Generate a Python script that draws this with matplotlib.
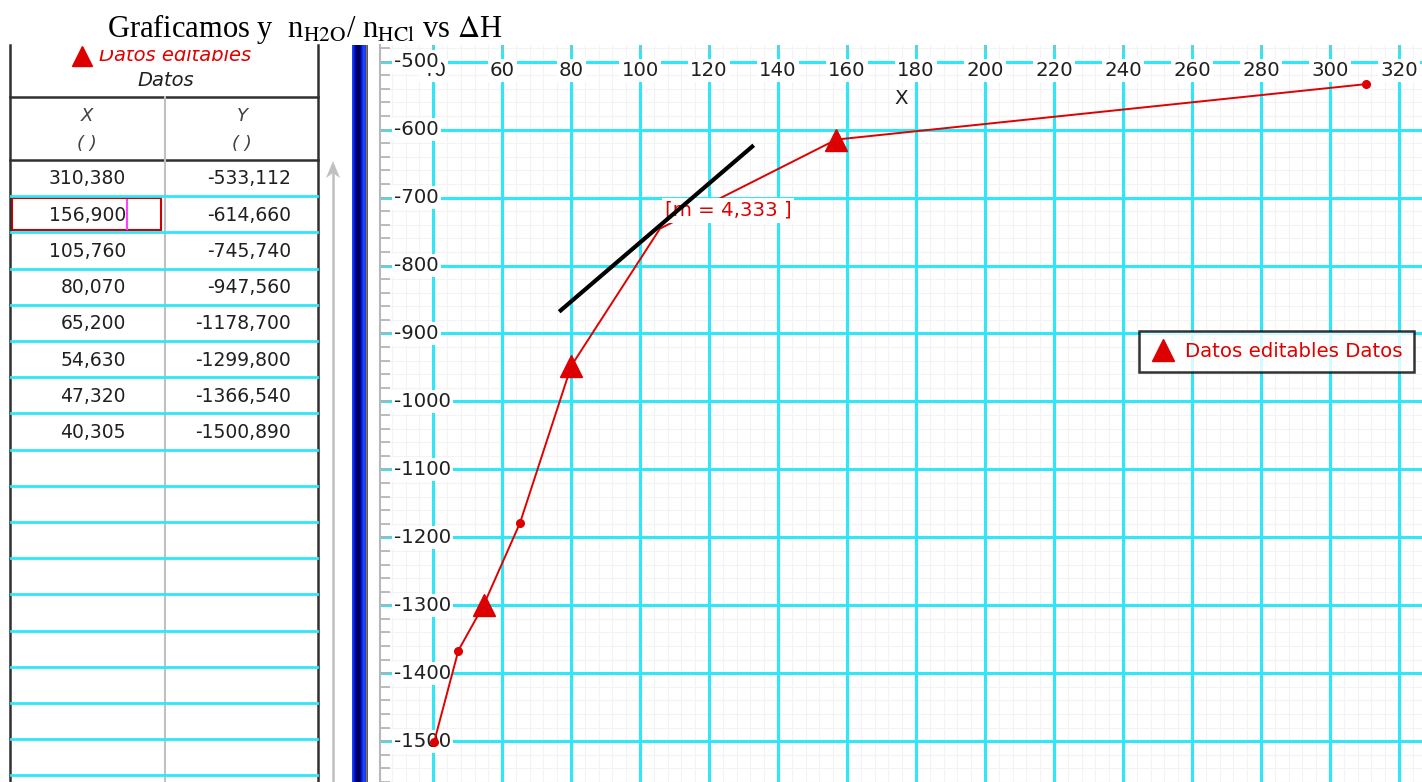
import numpy as np
import matplotlib
matplotlib.use("Agg")
import matplotlib.pyplot as plt
from matplotlib.lines import Line2D
from matplotlib.patches import Rectangle, Polygon

plt.rcParams['font.family'] = ['DejaVu Sans']
plt.rcParams['mathtext.fontset'] = 'stix'

# data (table on the left)
x_vals = [310.380, 156.900, 105.760, 80.070, 65.200, 54.630, 47.320, 40.305]
y_vals = [-533.112, -614.660, -745.740, -947.560, -1178.700, -1299.800, -1366.540, -1500.890]
tri_idx = [1, 3, 5]
dot_idx = [0, 4, 6, 7]
tan_x = [77.0, 132.5]
tan_y = [-866.0, -625.0]
slope_label = "[m = 4,333 ]"
label_pos = (125.5, -719.0)
x_ticks = list(range(40, 321, 20))
y_ticks = list(range(-1500, -499, 100))
series_name = "Datos editables Datos"

W, H = 1422, 782
CYAN = '#2ee8fa'
RED = '#e00000'
FS = 14.2

fig = plt.figure(figsize=(W / 100, H / 100), dpi=100)
fig.patch.set_facecolor('white')

# ---- main plot ----
ax = fig.add_axes([380 / W, 0, (W - 380) / W, 737 / H])
ax.set_xlim(24.6, 326.7)
ax.set_ylim(-1557.3, -475.5)
for s in ['top', 'right', 'bottom']:
    ax.spines[s].set_visible(False)
ax.spines['left'].set_color('#b8b8b8')
ax.spines['left'].set_linewidth(1.5)

ax.set_xticks(x_ticks)
ax.set_yticks(y_ticks)
ax.set_yticks([v for v in range(-1560, -479, 20) if v % 100], minor=True)
ax.xaxis.tick_top()
ax.tick_params(axis='x', which='major', direction='in', length=4, color='#b0b0b0',
               labeltop=False, labelbottom=False)
ax.tick_params(axis='y', which='both', direction='in', length=7, color='#b0b0b0',
               width=1.2, labelleft=False)
# faint background grid, kept under the cyan one
ax.vlines([v for v in range(24, 327, 4) if v % 20], -1560, -470, color='#f3f3f3',
          lw=0.8, zorder=0.1)
ax.hlines([v for v in range(-1560, -479, 20) if v % 100], 20, 330, color='#f3f3f3',
          lw=0.8, zorder=0.1)
ax.grid(which='major', color=CYAN, lw=2.2)
ax.set_axisbelow(True)

bx = dict(boxstyle='square,pad=0.1', fc='white', ec='none')
for v in x_ticks:
    ax.text(v, 0.966, str(v), transform=ax.get_xaxis_transform(), ha='center',
            va='center', fontsize=FS, color='#202020', bbox=bx, zorder=3)
for v in y_ticks:
    ax.text(0.0135, v, str(v), transform=ax.get_yaxis_transform(), ha='left',
            va='center', fontsize=FS, color='#202020', bbox=bx, zorder=4)
ax.text(0.5, 0.928, 'X', transform=ax.transAxes, ha='center', va='center',
        fontsize=FS, color='#202020')

ax.plot(x_vals, y_vals, color=RED, lw=1.4, zorder=5)
ax.plot([x_vals[i] for i in tri_idx], [y_vals[i] for i in tri_idx], ls='none',
        marker='^', ms=16, color='#dd0000', zorder=6)
ax.plot([x_vals[i] for i in dot_idx], [y_vals[i] for i in dot_idx], ls='none',
        marker='o', ms=5.5, color='#dd0000', zorder=6)
ax.text(label_pos[0], label_pos[1], slope_label, ha='center', va='center', fontsize=FS,
        color=RED, bbox=dict(boxstyle='square,pad=0.15', fc='white', ec='none'), zorder=7)
ax.plot(tan_x, tan_y, color='black', lw=3, zorder=8)

handle = Line2D([], [], ls='none', marker='^', ms=16, color='#dd0000')
leg = ax.legend([handle], [series_name], loc='center', bbox_to_anchor=(0.86, 0.584),
                fontsize=FS, frameon=True, fancybox=False, handletextpad=0.4,
                borderpad=0.55, handlelength=1.4, borderaxespad=0)
leg.get_frame().set_edgecolor('black')
leg.get_frame().set_linewidth(1.8)
for t in leg.get_texts():
    t.set_color(RED)
leg.set_zorder(10)

# ---- title ----
fig.text(107 / W, 1 - 37 / H,
         r"Graficamos y  n$_{\mathrm{H2O}}$/ n$_{\mathrm{HCl}}$ vs $\Delta$H",
         fontsize=22, family='Liberation Serif', ha='left', va='baseline')

# ---- left panel (data table) ----
tax = fig.add_axes([0, 0, 372 / W, 732 / H])
tax.set_xlim(0, 372)
tax.set_ylim(782, 50)
tax.axis('off')

tax.plot([10, 10], [45, 782], color='#303030', lw=1.8, clip_on=False)
tax.plot([318, 318], [45, 782], color='#303030', lw=1.8, clip_on=False)
tax.plot([10, 318], [97, 97], color='#303030', lw=1.8)
tax.plot([10, 318], [160, 160], color='#303030', lw=1.8)
tax.plot([165, 165], [97, 782], color='#c0c0c0', lw=1.5)
for k in range(1, 18):
    yy = 160 + 36.2 * k
    tax.plot([11, 317], [yy, yy], color=CYAN, lw=2)

tax.plot([82], [56], marker='^', ms=15, color='#dd0000', clip_on=False)
tax.text(175, 61, 'Datos editables', color=RED, style='italic', fontsize=14,
         ha='center', va='baseline', clip_on=True)
tax.text(166, 80, 'Datos', style='italic', fontsize=14, ha='center', va='center',
         color='#202020')
for cx, name in [(87, 'X'), (242, 'Y')]:
    tax.text(cx, 116, name, style='italic', fontsize=13, ha='center', va='center',
             color='#404040')
    tax.text(cx, 144, '( )', style='italic', fontsize=13, ha='center', va='center',
             color='#404040')

for i, (xv, yv) in enumerate(zip(x_vals, y_vals)):
    yy = 179 + 36.2 * i
    tax.text(126, yy, f"{xv:.3f}".replace('.', ','), ha='right', va='center',
             fontsize=13.5, color='#202020')
    tax.text(291, yy, f"{yv:.3f}".replace('.', ','), ha='right', va='center',
             fontsize=13.5, color='#202020')

# selected cell
tax.add_patch(Rectangle((12, 198), 149, 32, fill=False, ec='#d00000', lw=1.5))
tax.plot([127, 127], [200, 229], color='#ff40ff', lw=1.5)

# scrollbar arrow
tax.plot([333, 333], [168, 782], color='#c0c0c0', lw=1.8)
tax.add_patch(Polygon([(326, 178), (333, 161), (340, 178), (333, 173)], closed=True,
                      fc='#c0c0c0', ec='none'))

# blue divider
bar_cols = ['#2040ff', '#1030f0', '#0018d0', '#0008a0', '#000078', '#000058',
            '#000050', '#000060', '#000888', '#0018c0', '#1030f0', '#2040ff',
            '#2040ff', '#1838f0', '#8a7a50', '#6a5a40']
rgb = np.array([matplotlib.colors.to_rgb(c) for c in bar_cols])[None, :, :]
tax.imshow(rgb, extent=[352, 368, 782, 45], aspect='auto', interpolation='nearest',
           clip_on=False)
tax.set_xlim(0, 372)
tax.set_ylim(782, 50)

fig.savefig('out.png', dpi=100)
